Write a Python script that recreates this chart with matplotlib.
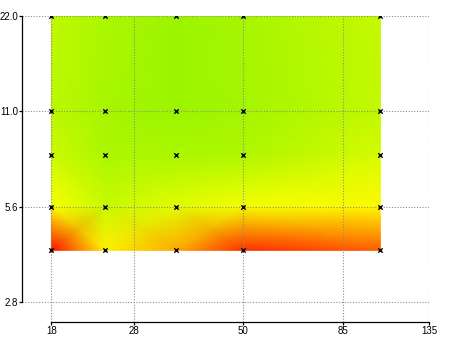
import matplotlib
matplotlib.use("Agg")
import matplotlib.pyplot as plt
from matplotlib.colors import LinearSegmentedColormap
from matplotlib.ticker import NullLocator
import numpy as np

plt.rcParams['font.family'] = ['Liberation Sans Narrow', 'Liberation Sans', 'DejaVu Sans']

# sample grid (x across, y up)
x_vals = [18, 24, 35, 50, 104]
y_vals = [4, 5.5, 8, 11, 22]

# 0 = red, 0.5 = yellow, 1 = green
z_vals = [
    [0.02, 0.47, 0.33, 0.09, 0.18],   # y = 4
    [0.52, 0.76, 0.64, 0.55, 0.49],   # y = 5.5
    [0.74, 0.90, 0.90, 0.88, 0.69],   # y = 8
    [0.82, 0.92, 0.97, 0.93, 0.79],   # y = 11
    [0.80, 0.90, 0.97, 0.92, 0.77],   # y = 22
]

x_ticks = [18, 28, 50, 85, 135]
x_labels = ["18", "28", "50", "85", "135"]
y_ticks = [2.75, 5.5, 11, 22]
y_labels = ["2.8", "5.6", "11.0", "22.0"]

cmap = LinearSegmentedColormap.from_list(
    "ryg", [(1.0, 0.0, 0.0), (1.0, 1.0, 0.0), (0.59, 0.96, 0.0)])

fig = plt.figure(figsize=(4.5, 3.37), dpi=100)
ax = fig.add_axes([0.0496, 0.0436, 0.9044, 0.9089])

X, Y = np.meshgrid(x_vals, y_vals)
Z = np.array(z_vals)
ax.pcolormesh(X, Y, Z, shading='gouraud', cmap=cmap, vmin=0, vmax=1, zorder=1)

# sample points
ax.scatter(X.ravel(), Y.ravel(), marker='x', s=10, c='black', linewidths=1.0, zorder=3)

ax.set_xscale('log')
ax.set_yscale('log')
ax.set_xlim(15.41, 135)
ax.set_ylim(2.37, 22)

ax.set_xticks(x_ticks)
ax.set_xticklabels(x_labels)
ax.set_yticks(y_ticks)
ax.set_yticklabels(y_labels)
ax.xaxis.set_minor_locator(NullLocator())
ax.yaxis.set_minor_locator(NullLocator())

ax.grid(True, color='#8c8c8c', linestyle=(0, (1, 1.5)), linewidth=0.8, zorder=2)

for s in ['top', 'right']:
    ax.spines[s].set_visible(False)
ax.spines['left'].set_bounds(2.75, 22)
ax.spines['bottom'].set_bounds(18, 135)
ax.spines['left'].set_linewidth(0.9)
ax.spines['bottom'].set_linewidth(0.9)

ax.tick_params(direction='out', length=2, width=0.9, pad=1, labelsize=7, colors='black')

fig.savefig("out.png", dpi=100)
